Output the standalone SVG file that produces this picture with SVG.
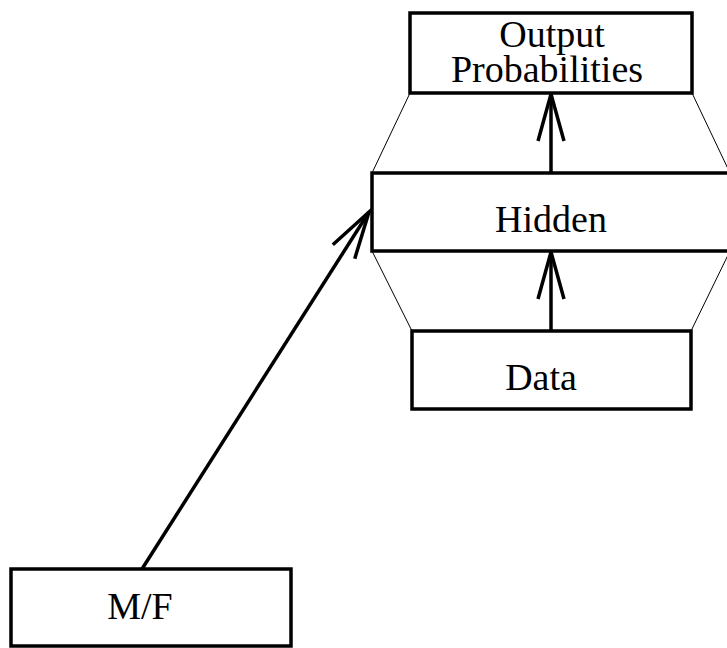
<svg xmlns="http://www.w3.org/2000/svg" width="727" height="648" viewBox="0 0 727 648">
  <style>
    .box { fill: #fff; stroke: #000; stroke-width: 3.5; }
    .guide { fill: none; stroke: #000; stroke-width: 1; }
    .edge { fill: none; stroke: #000; stroke-width: 3.5; }
    .label { font-family: "Liberation Serif", "Times New Roman", serif; font-size: 38px; fill: #000; text-anchor: middle; }
  </style>
  <defs>
    <marker id="open-arrow" markerUnits="userSpaceOnUse" markerWidth="60" markerHeight="40" viewBox="-50 -20 60 40" refX="0" refY="0" orient="auto" overflow="visible">
      <path d="M-47,-13 L0,0 L-47,13" fill="none" stroke="#000" stroke-width="3.5"/>
    </marker>
  </defs>
  <rect width="727" height="648" fill="#fff"/>

  <!-- thin layer outlines joining the stacked boxes -->
  <g id="outline">
    <line class="guide" x1="410" y1="93" x2="372" y2="173"/>
    <line class="guide" x1="692" y1="93" x2="730" y2="173"/>
    <line class="guide" x1="372" y1="251" x2="412" y2="331"/>
    <line class="guide" x1="730" y1="251" x2="691" y2="331"/>
  </g>

  <g id="connectors">
    <line class="edge" x1="551" y1="173" x2="551" y2="94" marker-end="url(#open-arrow)"/>
    <line class="edge" x1="551" y1="331" x2="551" y2="252" marker-end="url(#open-arrow)"/>
    <line class="edge" x1="142" y1="569" x2="369" y2="212" marker-end="url(#open-arrow)"/>
  </g>

  <g id="output">
    <rect class="box" x="410" y="13" width="282" height="80"/>
    <text class="label" x="552" y="47">Output</text>
    <text class="label" x="547" y="82">Probabilities</text>
  </g>

  <g id="hidden">
    <rect class="box" x="372" y="173" width="358" height="78"/>
    <text class="label" x="551" y="232">Hidden</text>
  </g>

  <g id="data">
    <rect class="box" x="412" y="331" width="279" height="78"/>
    <text class="label" x="541" y="390">Data</text>
  </g>

  <g id="mf">
    <rect class="box" x="11" y="569" width="280" height="77"/>
    <text class="label" x="140" y="619">M/F</text>
  </g>
</svg>
